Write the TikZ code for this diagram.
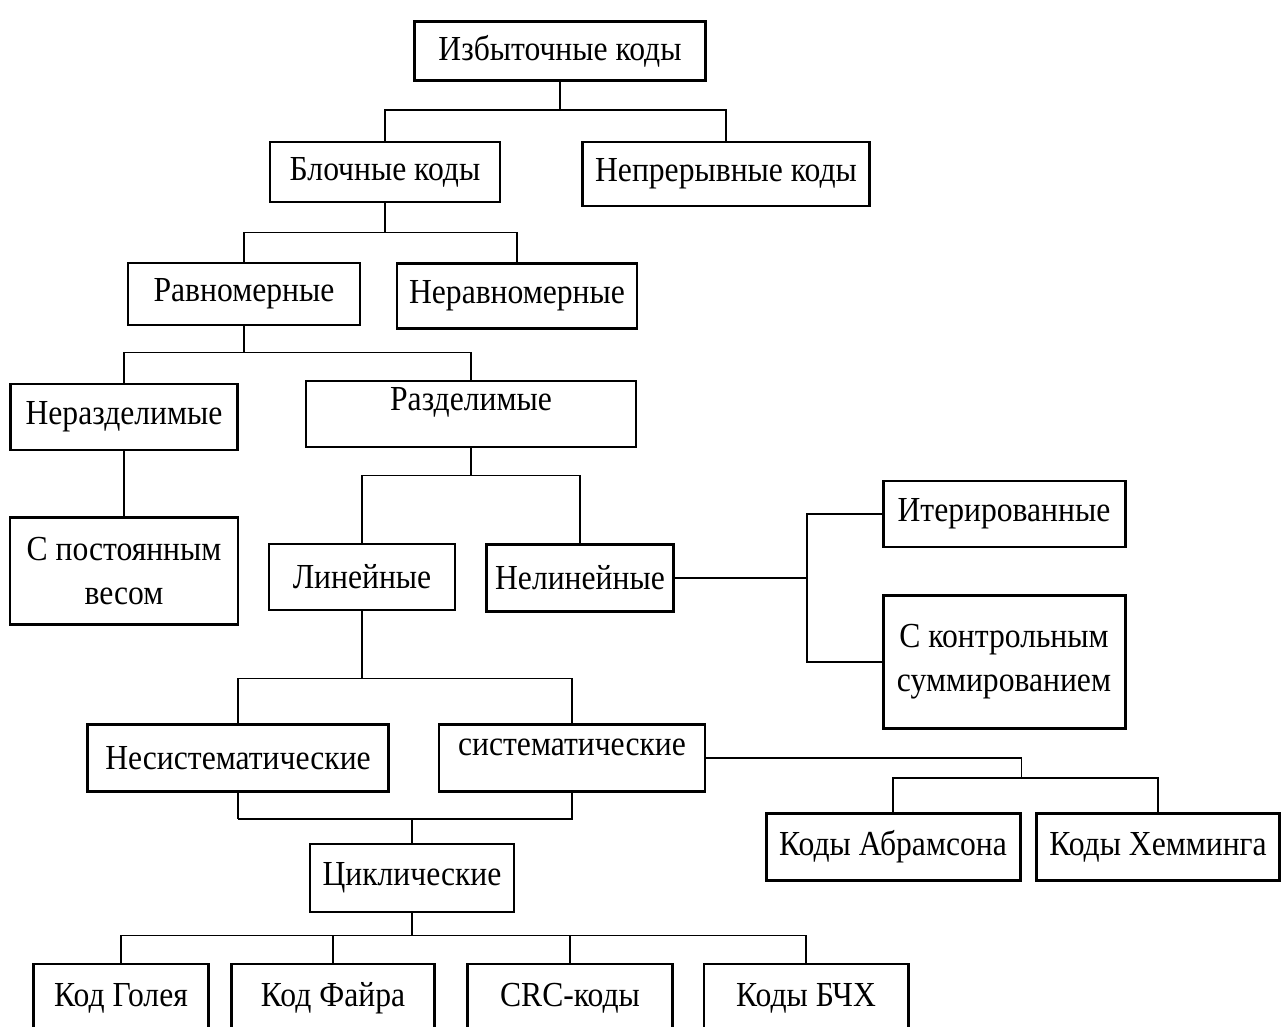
\documentclass[tikz,border=0pt]{standalone}
\usepackage{fontspec}
\setmainfont{Liberation Serif}[FakeStretch=0.9]

\tikzset{
  box/.style 2 args={draw,line width=1.7pt,minimum width=#1*0.02cm,minimum height=#2*0.02cm,inner sep=0pt,align=center},
  link/.style={line width=1.1pt}
}

\begin{document}
\begin{tikzpicture}[x=0.02cm,y=-0.02cm,font=\fontsize{20}{25}\selectfont]
  \useasboundingbox (0,0) rectangle (1282,1027);

  % level 1-3
  \node[box={291}{59}] (top) at (560,51) {Избыточные коды};
  \node[box={230}{60}] (block) at (385,172) {Блочные коды};
  \node[box={287}{64}] (cont) at (726,174) {Непрерывные коды};
  \node[box={232}{62}] (uni) at (244,294) {Равномерные};
  \node[box={240}{65}] (nonuni) at (517,296) {Неравномерные};

  % separable or not
  \node[box={227}{66}] (insep) at (124,417) {Неразделимые};
  \node[box={330}{66}] (sep) at (471,414) {};
  \node[anchor=center] (septext) at (471,402) {Разделимые};
  \node[box={228}{107}] (const) at (124,571) {С постоянным\\весом};

  \node[box={186}{66}] (lin) at (362,577) {Линейные};
  \node[box={187}{67}] (nonlin) at (580,578) {Нелинейные};
  \node[box={242}{66}] (iter) at (1004,514) {Итерированные};
  \node[box={242}{133}] (check) at (1004,662) {С контрольным\\суммированием};

  \node[box={301}{67}] (nonsys) at (238,758) {Несистематические};
  \node[box={266}{67}] (sys) at (572,758) {};
  \node[anchor=center] (systext) at (572,747) {систематические};
  \node[box={254}{67}] (abr) at (893,847) {Коды Абрамсона};
  \node[box={243}{67}] (ham) at (1158,847) {Коды Хемминга};

  \node[box={204}{68}] (cyc) at (412,878) {Циклические};
  \node[box={175}{68}] (golay) at (121,998) {Код Голея};
  \node[box={203}{68}] (fire) at (333,998) {Код Файра};
  \node[box={205}{68}] (crc) at (570,998) {CRC-коды};
  \node[box={204}{68}] (bch) at (806,998) {Коды БЧХ};

  % connectors
  \draw[link] (top.south) -- ++(0,28) coordinate (b1);
  \draw[link] (block.north) |- (b1) -| (cont.north);
  \draw[link] (block.south) -- ++(0,29) coordinate (b2);
  \draw[link] (uni.north) |- (b2) -| (nonuni.north);
  \draw[link] (uni.south) -- ++(0,26) coordinate (b3);
  \draw[link] (insep.north) |- (b3) -| (sep.north);
  \draw[link] (insep.south) -- (const.north);
  \draw[link] (sep.south) -- ++(0,27) coordinate (b4);
  \draw[link] (lin.north) |- (b4) -| (nonlin.north);

  \draw[link] (nonlin.east) -- ++(132,0) coordinate (b5);
  \draw[link] (iter.west) -| (b5) |- (check.west);

  \draw[link] (lin.south) -- ++(0,67) coordinate (b6);
  \draw[link] (nonsys.north) |- (b6) -| (sys.north);

  \draw[link] (sys.east) -- ++(315,0) coordinate (b7);
  \draw[link] (b7) -- ++(0,20) coordinate (b8);
  \draw[link] (abr.north) |- (b8) -| (ham.north);

  \draw[link] (nonsys.south) -- ++(0,26) coordinate (b9);
  \draw[link] (b9) -| (sys.south);
  \draw[link] (cyc.north) -- (cyc.north |- b9);

  \draw[link] (cyc.south) -- ++(0,22) coordinate (b10);
  \foreach \n in {golay,fire,crc,bch}
    \draw[link] (b10) -| (\n.north);
\end{tikzpicture}
\end{document}
